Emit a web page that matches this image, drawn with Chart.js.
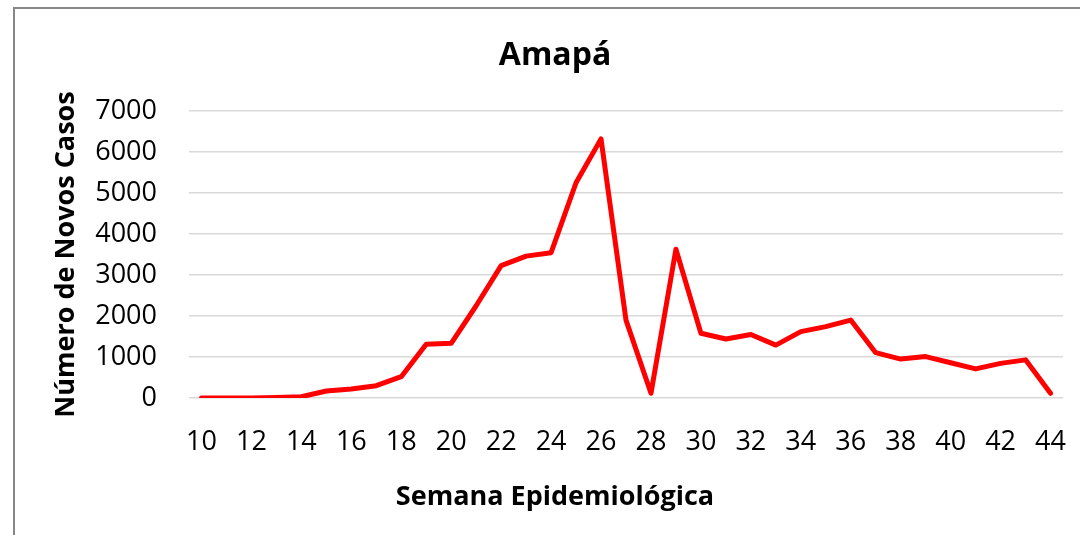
<!DOCTYPE html>
<html>
<head>
<meta charset="utf-8">
<script src="https://cdn.jsdelivr.net/npm/chart.js@4"></script>
<style>
  html, body { margin: 0; padding: 0; background: #ffffff; }
  #wrap { position: relative; width: 1080px; height: 535px; overflow: hidden; }
  #frame { position: absolute; left: 13px; top: 7px; width: 1200px; height: 700px;
           border-left: 2px solid #878787; border-top: 2px solid #878787; pointer-events: none; }
  canvas { position: absolute; left: 0; top: 0; }
</style>
</head>
<body>
<div id="wrap">
  <canvas id="c" width="1080" height="535"></canvas>
  <div id="frame"></div>
</div>
<script>
const chartTitle = "Amapá";
const xAxisTitle = "Semana Epidemiológica";
const yAxisTitle = "Número de Novos Casos";
const weeks = [10,11,12,13,14,15,16,17,18,19,20,21,22,23,24,25,26,27,28,29,30,31,32,33,34,35,36,37,38,39,40,41,42,43,44];
const newCases = [0,0,0,10,30,170,220,300,520,1310,1335,2250,3230,3460,3545,5250,6320,1900,115,3630,1580,1440,1550,1290,1620,1740,1900,1105,950,1010,860,710,845,930,115];
const yTicks = [0,1000,2000,3000,4000,5000,6000,7000];

const FONT = "'Open Sans', 'Liberation Sans', sans-serif";
const PAD_LEFT = 47;

new Chart(document.getElementById('c'), {
  type: 'line',
  data: {
    labels: weeks.map(String),
    datasets: [{
      data: newCases,
      borderColor: '#ff0000',
      backgroundColor: '#ff0000',
      borderWidth: 5,
      pointRadius: 0,
      tension: 0,
      borderCapStyle: 'round',
      borderJoinStyle: 'round',
      fill: false
    }]
  },
  options: {
    responsive: false,
    animation: false,
    layout: { padding: { top: 0, right: 17, bottom: 0, left: PAD_LEFT } },
    plugins: {
      legend: { display: false },
      tooltip: { enabled: false },
      title: {
        display: true,
        text: chartTitle,
        color: '#000000',
        font: { family: FONT, size: 32, weight: 'bold' },
        padding: { top: 37, bottom: 35.6 }
      },
      subtitle: {
        display: true,
        position: 'bottom',
        text: xAxisTitle,
        color: '#000000',
        font: { family: FONT, size: 27, weight: 'bold' },
        padding: { top: 0, bottom: 21.8 }
      }
    },
    scales: {
      x: {
        offset: true,
        grid: { display: false, drawTicks: false },
        border: { display: false },
        afterFit: (s) => { s.height = 82.8; s.paddingLeft = 0; s.paddingRight = 0; },
        ticks: {
          autoSkip: false,
          maxRotation: 0,
          minRotation: 0,
          padding: 28,
          color: '#000000',
          font: { family: FONT, size: 27 },
          callback: function(value, index) {
            return (weeks[index] % 2 === 0) ? String(weeks[index]) : '';
          }
        }
      },
      y: {
        min: 0,
        max: 7000,
        afterFit: (s) => { s.width = 189 - PAD_LEFT; s.paddingTop = 0; s.paddingBottom = 0; },
        afterBuildTicks: (s) => { s.ticks = yTicks.map(v => ({ value: v })); },
        grid: { color: '#d9d9d9', lineWidth: 1.5, drawTicks: false },
        border: { display: false },
        ticks: {
          padding: 32,
          color: '#000000',
          font: { family: FONT, size: 27 },
          callback: (v) => String(v)
        },
        title: {
          display: true,
          text: yAxisTitle,
          color: '#000000',
          font: { family: FONT, size: 27, weight: 'bold' },
          padding: { top: 3, bottom: 0 }
        }
      }
    }
  }
});
</script>
</body>
</html>
